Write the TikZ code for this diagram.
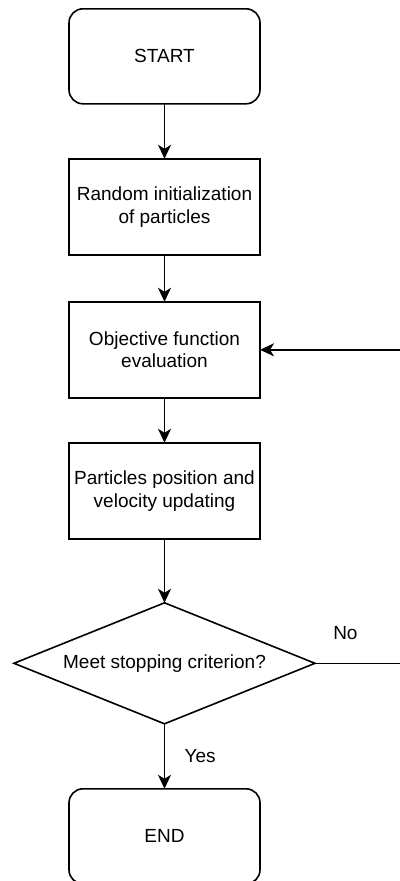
\documentclass[tikz,border=0pt]{standalone}
\usepackage{fontspec}
\setmainfont{Liberation Sans}
\usepackage{tikz}
\usetikzlibrary{shapes.geometric,arrows.meta,positioning}

\tikzset{
  block/.style={draw, rectangle, minimum width=191pt, minimum height=96pt,
                align=center, inner sep=2pt, outer sep=0pt},
  terminal/.style={block, rounded corners=14pt, minimum height=95pt},
  decision/.style={draw, diamond, aspect=2.49, minimum width=301pt,
                   minimum height=121pt, inner sep=0pt, outer sep=0pt,
                   align=center}
}

\begin{document}
\begin{tikzpicture}[->,>={Stealth[length=14pt,width=13pt,inset=4pt]},
                    line width=1.6pt,
                    font=\fontsize{19pt}{22.7pt}\selectfont]

  \useasboundingbox (0,0) rectangle (399pt,-881pt);

  \node[terminal] (start)  at (164.5pt,-56.3pt)  {START};
  \node[block]    (init)   [below=55pt of start]  {Random initialization\\of particles};
  \node[block]    (eval)   [below=47pt of init]   {Objective function\\evaluation};
  \node[block]    (update) [below=45pt of eval]   {Particles position and\\velocity updating};
  \node[decision] (check)  [below=64pt of update] {Meet stopping criterion?};
  \node[terminal] (stop)   [below=65pt of check]  {END};

  \coordinate (back) at ([xshift=95pt]check.east);

  \path (start)  edge (init)
        (init)   edge (eval)
        (eval)   edge (update)
        (update) edge (check)
        (check)  edge node[right=16pt] (yes) {Yes} (stop);

  \draw (check) -- node[above=19pt, pos=0.32] (no) {No} (back) |- (eval);
\end{tikzpicture}
\end{document}
